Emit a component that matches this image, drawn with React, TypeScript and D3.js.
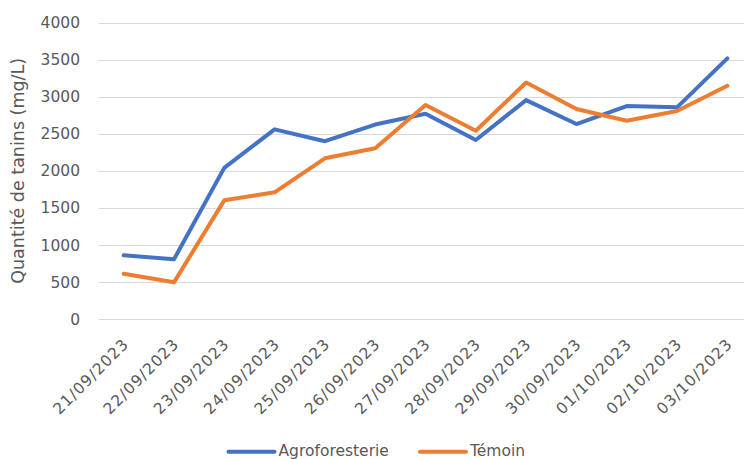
import React from "react";
import * as d3 from "d3";

const dates = [
  "21/09/2023", "22/09/2023", "23/09/2023", "24/09/2023", "25/09/2023",
  "26/09/2023", "27/09/2023", "28/09/2023", "29/09/2023", "30/09/2023",
  "01/10/2023", "02/10/2023", "03/10/2023",
];
const agroforesterie = [860, 806, 2040, 2560, 2400, 2625, 2770, 2416, 2955, 2632, 2874, 2857, 3518];
const temoin = [611, 495, 1602, 1710, 2169, 2304, 2888, 2541, 3192, 2834, 2676, 2807, 3148];
const yTicks = [0, 500, 1000, 1500, 2000, 2500, 3000, 3500, 4000];
const seriesNames = ["Agroforesterie", "Témoin"];
const seriesColors = ["#4472C4", "#ED7D31"];

const W = 744;
const H = 459;
const FONT = "'DejaVu Sans', sans-serif";
const TEXT = "#595959";

export default function App() {
  const x = d3.scalePoint<string>().domain(dates).range([98.5, 752.5]).padding(0.5);
  const y = d3.scaleLinear().domain([0, 4000]).range([319, 22.7]);
  const line = d3
    .line<number>()
    .x((_, i) => x(dates[i]) as number)
    .y((d) => y(d));
  const series = [agroforesterie, temoin];
  const legendX = [228.5, 420];

  return (
    <svg
      width={W}
      height={H}
      style={{ position: "absolute", left: 0, top: 0, background: "#fff" }}
      fontFamily={FONT}
    >
      <rect x={0} y={0} width={W} height={H} fill="#fff" />
      {yTicks.map((t) => (
        <g key={t}>
          <line x1={98.5} x2={752.5} y1={Math.round(y(t)) + 0.5} y2={Math.round(y(t)) + 0.5} stroke="#D9D9D9" strokeWidth={1} />
          <text x={80} y={y(t)} dy="0.36em" textAnchor="end" fontSize={15.5} fill={TEXT}>
            {t}
          </text>
        </g>
      ))}
      <text
        transform={`translate(24, ${(y(0) + y(4000)) / 2}) rotate(-90)`}
        textAnchor="middle"
        fontSize={17.5}
        fill={TEXT}
      >
        Quantité de tanins (mg/L)
      </text>
      {dates.map((d) => (
        <text
          key={d}
          transform={`translate(${(x(d) as number) + 6}, 345) rotate(-45)`}
          textAnchor="end"
          fontSize={15.5}
          letterSpacing={1}
          fill={TEXT}
        >
          {d}
        </text>
      ))}
      {series.map((s, i) => (
        <path
          key={i}
          d={line(s) || ""}
          fill="none"
          stroke={seriesColors[i]}
          strokeWidth={4}
          strokeLinejoin="round"
          strokeLinecap="round"
        />
      ))}
      {seriesNames.map((n, i) => (
        <g key={n}>
          <line x1={legendX[i]} x2={legendX[i] + 46} y1={451.7} y2={451.7} stroke={seriesColors[i]} strokeWidth={4} strokeLinecap="round" />
          <text x={legendX[i] + 50} y={456} fontSize={15.5} fill={TEXT}>
            {n}
          </text>
        </g>
      ))}
    </svg>
  );
}
